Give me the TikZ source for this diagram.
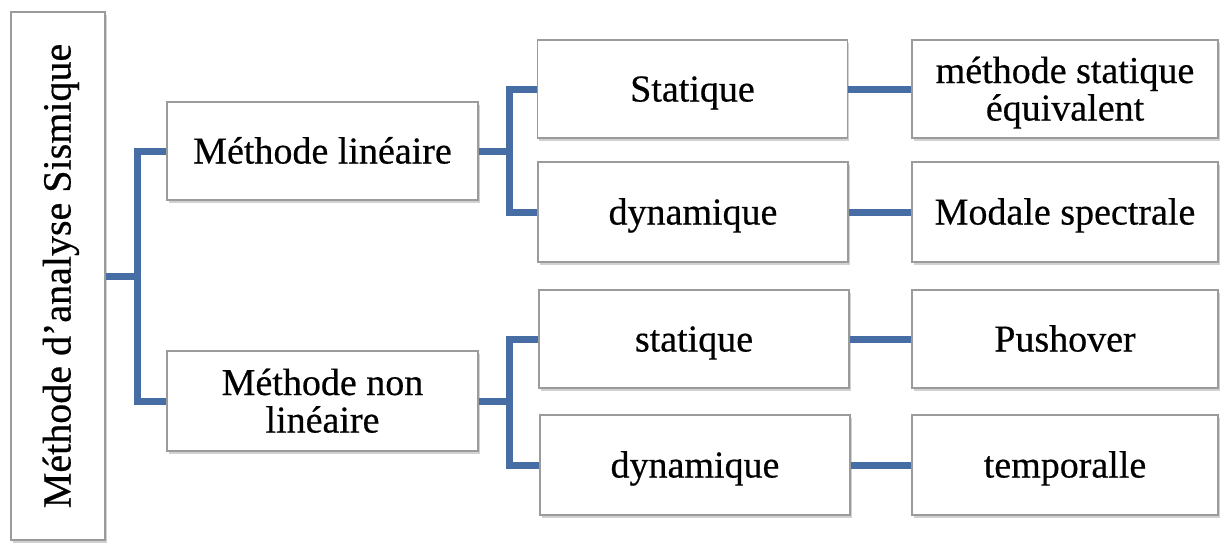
\documentclass[tikz,border=0pt]{standalone}
\usepackage{fontspec}
\setmainfont{Liberation Serif}
\newfontfamily\heavyserif[FakeBold=0.5]{Liberation Serif}
\usetikzlibrary{shadows}
\definecolor{conncol}{RGB}{70,110,165}
\definecolor{boxline}{RGB}{155,155,155}
\begin{document}
\begin{tikzpicture}[x=1pt,y=-1pt,
  box/.style={draw=boxline, line width=1.5pt, fill=white,
    drop shadow={shadow xshift=1.5pt, shadow yshift=-3pt, opacity=0.3, fill=black!60},
    inner sep=0pt, minimum height=98pt,
    font=\heavyserif\fontsize{38}{37}\selectfont},
  one/.style={text height=27pt, text depth=2pt},
  two/.style={text height=30pt, text depth=42pt},
  conn/.style={draw=conncol, line width=7pt}]
\useasboundingbox (0,0) rectangle (1220,543);

% nodes
\node[box, one, rotate=90, minimum width=528pt, minimum height=94pt,
      font=\heavyserif\fontsize{40}{40}\selectfont] (root) at (58,276) {Méthode d’analyse Sismique};
\node[box, one, minimum width=311pt] (ml)  at (322.5,151) {Méthode linéaire};
\node[box, two, minimum width=311pt, minimum height=100pt] (mnl) at (322.5,401)
  {\begin{tabular}[t]{@{}c@{}}Méthode non\\linéaire\end{tabular}};

\node[box, one, minimum width=310pt] (s1) at (692.5,89)  {Statique};
\node[box, one, minimum width=310pt, minimum height=100pt] (d1) at (693,212) {dynamique};
\node[box, one, minimum width=310pt] (s2) at (694,339)  {statique};
\node[box, one, minimum width=310pt, minimum height=100pt] (d2) at (695,465) {dynamique};

\node[box, two, minimum width=306pt] (r1) at (1065,89)
  {\begin{tabular}[t]{@{}c@{}}méthode statique\\équivalent\end{tabular}};
\node[box, one, minimum width=306pt, minimum height=100pt] (r2) at (1065,212) {Modale spectrale};
\node[box, one, minimum width=306pt] (r3) at (1065,339) {Pushover};
\node[box, one, minimum width=306pt, minimum height=100pt] (r4) at (1065,465) {temporalle};

% junctions
\coordinate (j1) at (137,276);
\coordinate (j2) at (509,151);
\coordinate (j3) at (509,401);

% connectors
\draw[conn] (root.south) -- (j1);
\draw[conn] (ml.west) -| (j1) |- (mnl.west);
\draw[conn] (ml.east) -- (j2);
\draw[conn] (s1.west) -| (j2) |- (d1.west);
\draw[conn] (mnl.east) -- (j3);
\draw[conn] (s2.west) -| (j3) |- (d2.west);
\draw[conn] (s1.east) -- (r1.west);
\draw[conn] (d1.east) -- (r2.west);
\draw[conn] (s2.east) -- (r3.west);
\draw[conn] (d2.east) -- (r4.west);
\end{tikzpicture}
\end{document}
